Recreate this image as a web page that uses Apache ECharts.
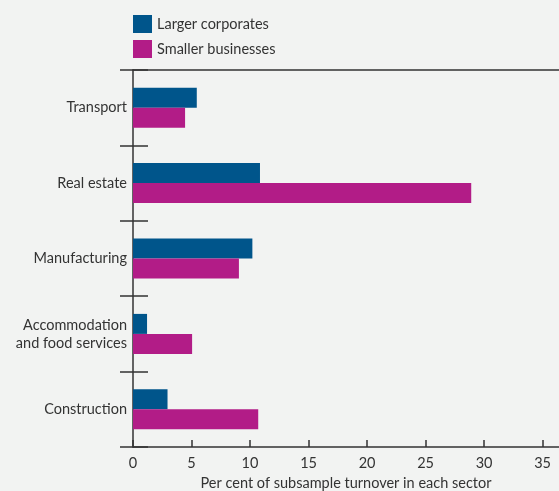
<!DOCTYPE html>
<html><head><meta charset="utf-8">
<script src="https://cdn.jsdelivr.net/npm/echarts@6/dist/echarts.min.js"></script>
<style>html,body{margin:0;padding:0;background:#f2f3f2;}#c{width:559px;height:491px;}</style>
</head><body><div id="c"></div>
<script>
var categories = ['Transport', 'Real estate', 'Manufacturing', 'Accommodation\nand food services', 'Construction'];
var largerCorporates = [5.45, 10.85, 10.2, 1.2, 2.95];
var smallerBusinesses = [4.45, 28.9, 9.05, 5.05, 10.7];
var xTicks = [0, 5, 10, 15, 20, 25, 30, 35];
var seriesNames = ['Larger corporates', 'Smaller businesses'];
var font = 'Lato';
var txt = '#333333';
var chart = echarts.init(document.getElementById('c'));
chart.setOption({
  backgroundColor: '#f2f3f2',
  animation: false,
  textStyle: {fontFamily: font},
  legend: {
    orient: 'vertical', left: 128, top: 10, itemWidth: 19, itemHeight: 18, itemGap: 7,
    icon: 'rect',
    textStyle: {fontSize: 14.5, color: txt, fontFamily: font},
    data: seriesNames
  },
  grid: {left: 133, top: 70, right: 0, bottom: 44, containLabel: false, outerBoundsMode: 'none'},
  xAxis: [{
    type: 'value', min: 0, max: 36.4, interval: 5, position: 'bottom',
    axisLine: {show: true, lineStyle: {color: '#333', width: 1.5}},
    axisTick: {show: true, inside: true, length: 7, customValues: xTicks, lineStyle: {color: '#333', width: 1.5}},
    axisLabel: {customValues: xTicks, fontSize: 14.5, color: txt, margin: 9, fontFamily: font},
    splitLine: {show: false},
    name: 'Per cent of subsample turnover in each sector',
    nameLocation: 'middle', nameGap: 22,
    nameTextStyle: {fontSize: 14.5, color: txt, fontFamily: font}
  }, {
    type: 'value', min: 0, max: 36.4, position: 'top',
    axisLine: {show: true, lineStyle: {color: '#333', width: 1.5}},
    axisTick: {show: false}, axisLabel: {show: false}, splitLine: {show: false}
  }],
  yAxis: [{
    type: 'category', data: categories, inverse: true, position: 'left',
    axisLine: {show: true, lineStyle: {color: '#333', width: 1.5}},
    axisTick: {show: true, inside: true, length: 15, lineStyle: {color: '#333', width: 1.5}},
    axisLabel: {fontSize: 14.5, color: txt, margin: 6, lineHeight: 18, fontFamily: font, align: 'right'}
  }, {
    type: 'category', data: categories, inverse: true, position: 'right',
    axisLine: {show: false},
    axisTick: {show: true, inside: true, length: 13, lineStyle: {color: '#333', width: 1.5}},
    axisLabel: {show: false}
  }],
  series: [{
    name: seriesNames[0], type: 'bar', data: largerCorporates, barWidth: 20, barGap: '0%',
    itemStyle: {color: '#00558b'}
  }, {
    name: seriesNames[1], type: 'bar', data: smallerBusinesses, barWidth: 20, barGap: '0%',
    itemStyle: {color: '#b21c87'}
  }]
});
</script></body></html>
